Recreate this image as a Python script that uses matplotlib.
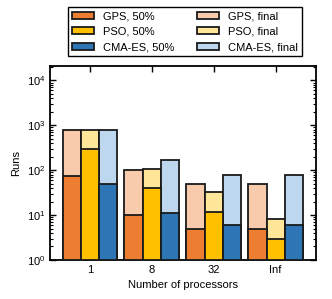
import matplotlib
matplotlib.use("Agg")
import matplotlib.pyplot as plt
import numpy as np

categories = ["1", "8", "32", "Inf"]
methods = ["GPS", "PSO", "CMA-ES"]
half = {
    "GPS": [75, 10, 5, 5],
    "PSO": [300, 40, 12, 3],
    "CMA-ES": [50, 11, 6, 6],
}
final = {
    "GPS": [800, 100, 50, 50],
    "PSO": [800, 105, 32, 8],
    "CMA-ES": [800, 165, 80, 80],
}
dark_colors = {"GPS": "#ED7D31", "PSO": "#FFC000", "CMA-ES": "#2E75B6"}
light_colors = {"GPS": "#F8CBAD", "PSO": "#FFE699", "CMA-ES": "#BDD7EE"}

plt.rcParams["mathtext.fontset"] = "cm"
plt.rcParams["font.family"] = ["Liberation Sans", "DejaVu Sans"]
plt.rcParams["font.size"] = 8

fig = plt.figure(figsize=(3.32, 2.99), dpi=100)
ax = fig.add_axes([50/332, 1 - 260/299, 265.6/332, 194/299])
ax.set_yscale("log")

x = np.arange(len(categories))
w = 0.295
offsets = [-w, 0, w]
ec = "#1a1a1a"
lw = 1.3
for m, off in zip(methods, offsets):
    ax.bar(x + off, np.array(final[m]) - 1, bottom=1, width=w, color=light_colors[m],
           edgecolor=ec, linewidth=lw, label=f"{m}, final", zorder=2)
for m, off in zip(methods, offsets):
    ax.bar(x + off, np.array(half[m]) - 1, bottom=1, width=w, color=dark_colors[m],
           edgecolor=ec, linewidth=lw, label=f"{m}, 50%", zorder=3)

ax.set_ylim(1, 2.1e4)
ax.set_xlim(-0.645, 3.645)
ax.set_xticks(x)
ax.set_xticklabels(categories)
ax.tick_params(which="both", direction="in", top=True, right=True, labelsize=8)
ax.tick_params(which="major", length=4, width=1)
ax.tick_params(which="minor", length=2, width=0.8)
ax.tick_params(axis="x", which="minor", top=False, bottom=False)
for s in ax.spines.values():
    s.set_linewidth(1.3)
ax.set_ylabel("Runs", fontsize=8)
ax.set_xlabel("Number of processors", fontsize=8)

handles, labels = ax.get_legend_handles_labels()
order = [3, 4, 5, 0, 1, 2]
leg = ax.legend([handles[i] for i in order], [labels[i] for i in order], ncol=2,
                loc="lower center", bbox_to_anchor=(0.508, 1.022), fontsize=8,
                fancybox=False, edgecolor="black", framealpha=1,
                handlelength=2.0, handleheight=0.6, labelspacing=0.5,
                columnspacing=2.0, borderpad=0.35)
leg.get_frame().set_linewidth(1.0)
fig.savefig("out.png", dpi=100)
